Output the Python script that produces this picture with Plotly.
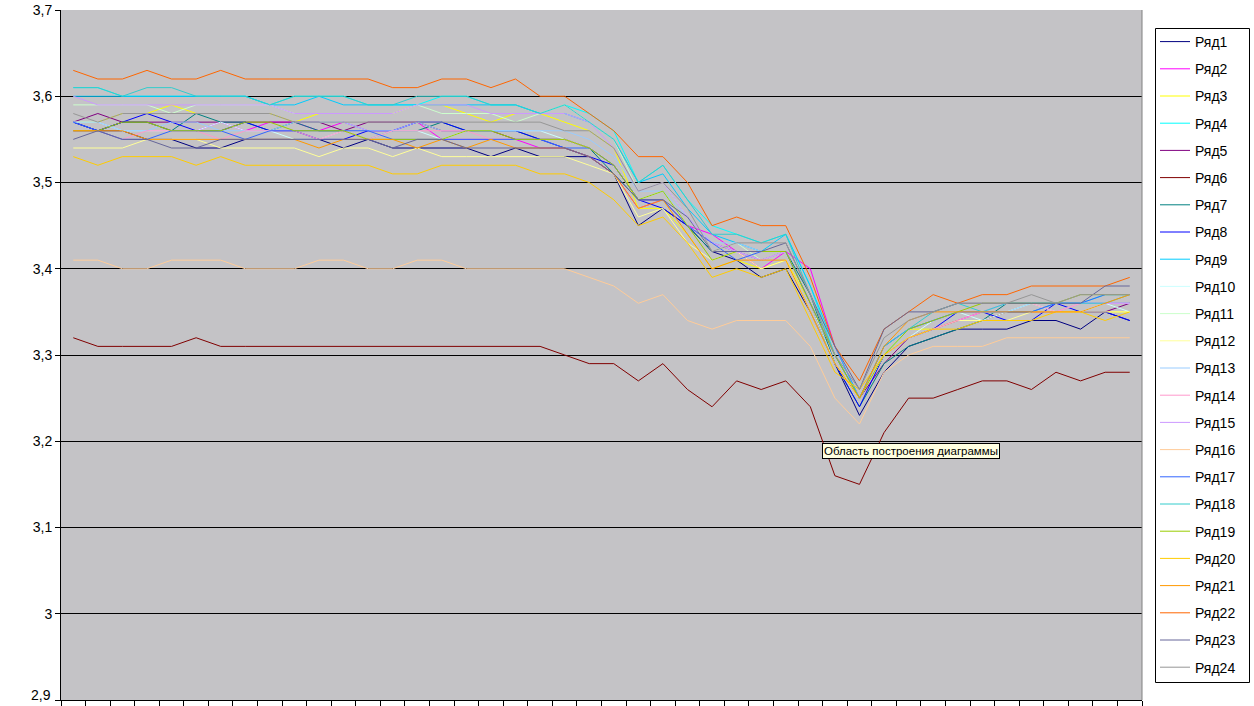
import plotly.graph_objects as go

categories = list(range(1, 45))

names = ["Ряд%d" % i for i in range(1, 25)]

colors = ["#000080", "#FF00FF", "#FFFF00", "#00FFFF", "#800080", "#800000",
          "#008080", "#0000FF", "#00CCFF", "#CCFFFF", "#CCFFCC", "#FFFF99",
          "#99CCFF", "#FF99CC", "#CC99FF", "#FFCC99", "#3366FF", "#33CCCC",
          "#99CC00", "#FFCC00", "#FF9900", "#FF6600", "#666699", "#969696"]

s1 = [3.57,3.56,3.56,3.55,3.55,3.54,3.54,3.55,3.55,3.55,3.55,3.54,3.55,3.54,3.54,3.54,3.54,3.53,3.54,3.53,
      3.53,3.53,3.51,3.45,3.47,3.45,3.42,3.41,3.39,3.40,3.35,3.29,3.23,
      3.28,3.31,3.32,3.33,3.33,3.33,3.34,3.34,3.33,3.35,3.34]
s2 = [3.56,3.56,3.57,3.57,3.56,3.56,3.57,3.56,3.57,3.57,3.56,3.57,3.56,3.56,3.57,3.55,3.55,3.55,3.55,3.54,
      3.54,3.53,3.51,3.47,3.48,3.45,3.44,3.42,3.40,3.42,3.40,3.31,3.25,
      3.30,3.32,3.33,3.34,3.35,3.35,3.35,3.35,3.36,3.36,3.36]
s3 = [3.57,3.57,3.58,3.58,3.59,3.58,3.58,3.58,3.58,3.57,3.58,3.58,3.58,3.58,3.59,3.59,3.58,3.57,3.58,3.58,
      3.57,3.56,3.54,3.47,3.47,3.44,3.40,3.41,3.40,3.41,3.36,3.29,3.25,
      3.30,3.33,3.33,3.34,3.34,3.35,3.35,3.35,3.35,3.35,3.35]
s4 = [3.61,3.61,3.60,3.60,3.60,3.60,3.60,3.60,3.59,3.60,3.60,3.60,3.59,3.59,3.59,3.60,3.60,3.59,3.59,3.58,
      3.59,3.58,3.56,3.50,3.52,3.48,3.45,3.44,3.43,3.44,3.38,3.30,3.25,
      3.31,3.33,3.34,3.35,3.35,3.36,3.36,3.36,3.36,3.37,3.37]
s5 = [3.57,3.58,3.57,3.57,3.57,3.57,3.57,3.57,3.57,3.57,3.57,3.56,3.57,3.57,3.57,3.56,3.56,3.56,3.55,3.55,
      3.55,3.54,3.52,3.48,3.48,3.45,3.43,3.42,3.42,3.42,3.36,3.30,3.25,
      3.29,3.32,3.33,3.34,3.34,3.35,3.35,3.35,3.35,3.35,3.36]
s6 = [3.32,3.31,3.31,3.31,3.31,3.32,3.31,3.31,3.31,3.31,3.31,3.31,3.31,3.31,3.31,3.31,3.31,3.31,3.31,3.31,
      3.30,3.29,3.29,3.27,3.29,3.26,3.24,3.27,3.26,3.27,3.24,3.16,3.15,
      3.21,3.25,3.25,3.26,3.27,3.27,3.26,3.28,3.27,3.28,3.28]
s7 = [3.56,3.56,3.57,3.57,3.56,3.58,3.57,3.57,3.56,3.57,3.56,3.56,3.55,3.56,3.56,3.57,3.56,3.56,3.56,3.55,
      3.55,3.54,3.51,3.48,3.48,3.45,3.42,3.42,3.41,3.42,3.37,3.29,3.24,
      3.29,3.31,3.32,3.33,3.34,3.36,3.36,3.36,3.36,3.36,3.36]
s8 = [3.57,3.56,3.57,3.58,3.57,3.56,3.56,3.57,3.56,3.56,3.55,3.55,3.56,3.56,3.57,3.57,3.56,3.56,3.56,3.55,
      3.54,3.53,3.52,3.48,3.47,3.45,3.43,3.42,3.41,3.42,3.36,3.29,3.24,
      3.30,3.32,3.33,3.35,3.35,3.34,3.34,3.36,3.35,3.35,3.34]
s9 = [3.60,3.60,3.60,3.60,3.60,3.60,3.60,3.60,3.59,3.59,3.60,3.59,3.59,3.59,3.59,3.59,3.59,3.59,3.59,3.58,
      3.58,3.57,3.55,3.50,3.51,3.47,3.44,3.43,3.42,3.44,3.38,3.31,3.25,
      3.30,3.33,3.34,3.35,3.35,3.35,3.35,3.36,3.36,3.36,3.36]
s10 = [3.57,3.57,3.56,3.56,3.56,3.56,3.57,3.56,3.56,3.55,3.55,3.56,3.55,3.56,3.56,3.55,3.56,3.56,3.56,3.56,
       3.55,3.54,3.52,3.48,3.49,3.45,3.43,3.42,3.41,3.42,3.36,3.30,3.25,
       3.30,3.32,3.34,3.35,3.34,3.35,3.36,3.35,3.35,3.36,3.35]
s11 = [3.59,3.59,3.59,3.59,3.58,3.59,3.59,3.59,3.59,3.58,3.58,3.58,3.58,3.58,3.59,3.58,3.58,3.58,3.57,3.58,
       3.59,3.57,3.55,3.49,3.50,3.46,3.42,3.43,3.41,3.42,3.36,3.29,3.25,
       3.30,3.33,3.34,3.35,3.35,3.35,3.36,3.35,3.36,3.36,3.36]
s12 = [3.54,3.54,3.54,3.55,3.55,3.55,3.54,3.54,3.54,3.54,3.53,3.54,3.54,3.53,3.54,3.53,3.53,3.53,3.53,3.53,
       3.53,3.52,3.51,3.46,3.47,3.43,3.41,3.42,3.40,3.41,3.35,3.29,3.25,
       3.30,3.32,3.33,3.34,3.34,3.34,3.35,3.35,3.35,3.35,3.35]
s13 = [3.57,3.57,3.56,3.56,3.57,3.57,3.56,3.56,3.56,3.57,3.57,3.57,3.56,3.56,3.57,3.56,3.56,3.56,3.56,3.56,
       3.56,3.55,3.53,3.49,3.49,3.46,3.43,3.43,3.42,3.42,3.36,3.30,3.25,
       3.31,3.33,3.34,3.35,3.35,3.35,3.36,3.36,3.36,3.36,3.36]
s14 = [3.56,3.56,3.55,3.56,3.56,3.56,3.55,3.56,3.56,3.56,3.55,3.56,3.55,3.56,3.56,3.56,3.56,3.55,3.55,3.55,
       3.55,3.54,3.52,3.48,3.48,3.45,3.43,3.42,3.41,3.42,3.36,3.30,3.25,
       3.30,3.32,3.33,3.34,3.35,3.36,3.36,3.35,3.36,3.36,3.36]
s15 = [3.60,3.59,3.59,3.59,3.59,3.59,3.59,3.59,3.59,3.58,3.58,3.58,3.58,3.58,3.59,3.59,3.59,3.58,3.58,3.58,
       3.58,3.57,3.54,3.49,3.50,3.46,3.43,3.42,3.41,3.42,3.36,3.30,3.25,
       3.31,3.33,3.34,3.35,3.35,3.36,3.36,3.36,3.36,3.36,3.36]
s16 = [3.41,3.41,3.40,3.40,3.41,3.41,3.41,3.40,3.40,3.40,3.41,3.41,3.40,3.40,3.41,3.41,3.40,3.40,3.40,3.40,
       3.40,3.39,3.38,3.36,3.37,3.34,3.33,3.34,3.34,3.34,3.31,3.25,3.22,
       3.28,3.30,3.31,3.31,3.31,3.32,3.32,3.32,3.32,3.32,3.32]
s17 = [3.57,3.56,3.55,3.55,3.56,3.56,3.56,3.55,3.56,3.56,3.56,3.56,3.56,3.55,3.55,3.55,3.55,3.55,3.55,3.55,
       3.54,3.54,3.52,3.48,3.48,3.45,3.43,3.41,3.42,3.42,3.36,3.30,3.25,
       3.31,3.33,3.34,3.35,3.35,3.35,3.35,3.36,3.36,3.37,3.37]
s18 = [3.61,3.61,3.60,3.61,3.61,3.60,3.60,3.60,3.59,3.60,3.60,3.60,3.59,3.59,3.60,3.60,3.60,3.59,3.59,3.58,
       3.59,3.57,3.55,3.50,3.52,3.48,3.44,3.44,3.43,3.44,3.37,3.30,3.25,
       3.31,3.33,3.35,3.36,3.35,3.36,3.36,3.36,3.36,3.36,3.37]
s19 = [3.56,3.56,3.57,3.57,3.56,3.56,3.56,3.57,3.57,3.56,3.56,3.56,3.55,3.55,3.55,3.55,3.56,3.56,3.55,3.55,
       3.55,3.54,3.52,3.48,3.49,3.45,3.41,3.42,3.42,3.42,3.36,3.30,3.25,
       3.30,3.33,3.34,3.35,3.36,3.36,3.36,3.36,3.37,3.37,3.37]
s20 = [3.53,3.52,3.53,3.53,3.53,3.52,3.53,3.52,3.52,3.52,3.52,3.52,3.52,3.51,3.51,3.52,3.52,3.52,3.52,3.51,
       3.51,3.50,3.48,3.45,3.46,3.43,3.39,3.40,3.39,3.40,3.34,3.28,3.26,
       3.30,3.32,3.33,3.33,3.34,3.34,3.34,3.35,3.35,3.34,3.35]
s21 = [3.56,3.56,3.56,3.55,3.55,3.55,3.55,3.55,3.55,3.55,3.54,3.55,3.55,3.55,3.54,3.55,3.54,3.55,3.54,3.54,
       3.54,3.53,3.51,3.47,3.48,3.44,3.40,3.41,3.41,3.41,3.35,3.29,3.25,
       3.31,3.34,3.35,3.35,3.35,3.35,3.35,3.35,3.35,3.36,3.37]
s22 = [3.63,3.62,3.62,3.63,3.62,3.62,3.63,3.62,3.62,3.62,3.62,3.62,3.62,3.61,3.61,3.62,3.62,3.61,3.62,3.60,
       3.60,3.58,3.56,3.53,3.53,3.50,3.45,3.46,3.45,3.45,3.39,3.31,3.27,
       3.33,3.35,3.37,3.36,3.37,3.37,3.38,3.38,3.38,3.38,3.39]
s23 = [3.55,3.56,3.55,3.55,3.54,3.54,3.55,3.55,3.55,3.55,3.55,3.55,3.55,3.54,3.55,3.55,3.54,3.54,3.54,3.54,
       3.54,3.53,3.51,3.48,3.48,3.46,3.42,3.42,3.42,3.43,3.37,3.31,3.26,
       3.33,3.35,3.35,3.36,3.36,3.36,3.36,3.36,3.36,3.38,3.38]
s24 = [3.58,3.57,3.58,3.58,3.58,3.58,3.58,3.58,3.58,3.57,3.57,3.57,3.57,3.57,3.57,3.57,3.57,3.57,3.57,3.57,
       3.56,3.56,3.54,3.49,3.50,3.47,3.42,3.43,3.43,3.43,3.37,3.30,3.26,
       3.32,3.34,3.35,3.36,3.36,3.36,3.37,3.36,3.37,3.37,3.37]

series = [s1, s2, s3, s4, s5, s6, s7, s8, s9, s10, s11, s12,
          s13, s14, s15, s16, s17, s18, s19, s20, s21, s22, s23, s24]

y_ticks = [2.9, 3.0, 3.1, 3.2, 3.3, 3.4, 3.5, 3.6, 3.7]
y_tick_text = ["2,9", "3", "3,1", "3,2", "3,3", "3,4", "3,5", "3,6", "3,7"]

tooltip_text = "Область построения диаграммы"

fig = go.Figure()
for i, (name, vals) in enumerate(zip(names, series)):
    fig.add_trace(go.Scatter(
        x=categories, y=vals, name=name, mode="lines",
        line=dict(color=colors[i], width=1),
        legendgroup=name,
    ))

W, H = 1254, 706
L, R, T, B = 61, 112, 10, 6
PW, PH = W - L - R, H - T - B


def px_x(p):
    return (p - L) / PW


def px_y(p):
    return (H - B - p) / PH


annotations = [dict(
    text=tooltip_text, xref="paper", yref="paper",
    x=px_x(822), y=px_y(443),
    xanchor="left", yanchor="top", showarrow=False,
    bgcolor="#FFFFE1", bordercolor="black", borderwidth=1, borderpad=1,
    font=dict(size=11.5, family="Liberation Sans, Arial, sans-serif", color="black"),
)]
# lowest tick label, nudged up so that it stays fully inside the page
annotations.append(dict(
    text=y_tick_text[0], xref="paper", yref="paper", x=px_x(53), y=px_y(705),
    xanchor="right", yanchor="bottom", showarrow=False,
    font=dict(size=14, family="Liberation Sans, Arial, sans-serif", color="black"),
))

fig.update_layout(
    width=W, height=H,
    margin=dict(l=L, r=R, t=T, b=B, autoexpand=False),
    paper_bgcolor="white",
    plot_bgcolor="#C4C3C6",
    font=dict(family="Liberation Sans, Arial, sans-serif", size=14, color="black"),
    showlegend=True,
    legend=dict(
        x=px_x(1155), y=px_y(26),
        xanchor="left", yanchor="top",
        bgcolor="rgba(0,0,0,0)", borderwidth=0,
        font=dict(size=14, family="Liberation Sans, Arial, sans-serif"),
        tracegroupgap=6, traceorder="grouped",
        itemwidth=30,
    ),
    xaxis=dict(
        range=[0.5, 44.5], showgrid=False, zeroline=False,
        showticklabels=False, automargin=False,
        tickmode="array", tickvals=[k + 0.5 for k in range(0, 45)],
        ticks="outside", ticklen=6, tickcolor="black",
        showline=True, linecolor="black", linewidth=1,
    ),
    yaxis=dict(
        range=[2.9, 3.7], tickmode="array", tickvals=y_ticks, ticktext=[""] + y_tick_text[1:],
        showgrid=True, gridcolor="black", gridwidth=1, zeroline=False,
        ticks="outside", ticklen=5, tickcolor="black", automargin=False,
        showline=True, linecolor="black", linewidth=1,
        tickfont=dict(size=14),
    ),
    shapes=[
        dict(type="line", xref="paper", yref="paper", x0=1, x1=1, y0=0, y1=1,
             line=dict(color="#808080", width=1)),
        dict(type="rect", xref="paper", yref="paper",
             x0=px_x(1155.5), x1=px_x(1249.5), y0=px_y(682.5), y1=px_y(28.5),
             line=dict(color="black", width=1), fillcolor="rgba(0,0,0,0)", layer="below"),
    ],
    annotations=annotations,
)

fig.write_html("out.html", config={"displayModeBar": False},
               post_script="document.body.style.margin='0px';document.body.style.overflow='hidden';")
